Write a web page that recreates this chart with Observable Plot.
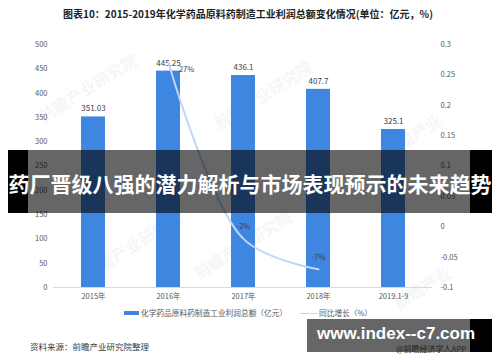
<!DOCTYPE html>
<html>
<head>
<meta charset="utf-8">
<script src="https://cdn.jsdelivr.net/npm/d3@7"></script>
<script src="https://cdn.jsdelivr.net/npm/@observablehq/plot@0.6"></script>
<style>
  html, body { margin: 0; padding: 0; background: #fff; }
  #wrap { position: relative; width: 500px; height: 362px; overflow: hidden; font-family: "Noto Sans CJK SC", "Noto Sans", sans-serif; }
  #chart { position: absolute; left: 0; top: 0; }
  .abs { position: absolute; white-space: nowrap; }
  .wm { position: absolute; white-space: nowrap; color: rgba(190,198,212,0.18); font-size: 16px; font-weight: bold; transform: rotate(-32deg); transform-origin: left center; }
</style>
</head>
<body>
<div id="wrap">
  <div class="wm" style="left:40px;top:105px;">前瞻产业研究院</div>
  <div class="wm" style="left:215px;top:112px;">前瞻产业研究院</div>
  <div class="wm" style="left:385px;top:140px;">前瞻产业</div>
  <div class="wm" style="left:85px;top:262px;">前瞻产业研究院</div>
  <div class="wm" style="left:195px;top:262px;">前瞻产业研究院</div>
  <div class="wm" style="left:395px;top:292px;">前瞻产业</div>
  <div id="chart"></div>
  <div class="abs" id="title" style="left:0;width:496px;top:6px;text-align:center;font-size:10px;font-weight:bold;color:#222;">图表10：2015-2019年化学药品原料药制造工业利润总额变化情况(单位：亿元，%)</div>
  <div class="abs" style="left:124px;top:311px;width:15px;height:4px;background:#3f86e0;"></div>
  <div class="abs" id="leg1" style="left:141px;top:307px;font-size:7.7px;line-height:12px;color:#595959;"></div>
  <div class="abs" style="left:300px;top:312.5px;width:18px;height:1.5px;background:#bdd7f6;"></div>
  <div class="abs" id="leg2" style="left:319px;top:307px;font-size:7.7px;line-height:12px;color:#595959;"></div>
  <div class="abs" style="left:30px;top:340px;font-size:8.5px;line-height:12px;color:#404040;">资料来源：前瞻产业研究院整理</div>
  <!-- overlay banner -->
  <div class="abs" style="left:8px;top:150px;width:20px;height:63px;background:#000;"></div>
  <div class="abs" style="left:28px;top:150px;width:442px;height:63px;background:rgba(0,0,0,0.6);"></div>
  <div class="abs" style="left:470px;top:150px;width:22px;height:63px;background:#000;"></div>
  <div class="abs" style="left:0;width:500px;top:168px;text-align:center;font-size:21px;line-height:30px;font-weight:bold;color:#fff;">药厂晋级八强的潜力解析与市场表现预示的未来趋势</div>
  <!-- bottom-right badge -->
  <div class="abs" style="left:307px;top:319px;width:163px;height:33px;background:rgba(0,0,0,0.6);"></div>
  <div class="abs" style="left:470px;top:319px;width:22px;height:33px;background:#000;"></div>
  <div class="abs" style="left:317px;top:323px;font-size:17px;line-height:22px;font-weight:bold;color:#fff;font-family:'Liberation Sans',Arial,sans-serif;">www.index--c7.com</div>
  <div class="abs" style="left:396px;top:343px;font-size:8px;line-height:12px;color:#222;">@前瞻经济学人APP</div>
</div>
<script>
const categories = ["2015年", "2016年", "2017年", "2018年", "2019.1-9"];
const profits = [351.03, 445.25, 436.1, 407.7, 325.1];
const growthYears = ["2016年", "2017年", "2018年"];
const growth = [0.27, -0.02, -0.07];
const growthLabels = ["27%", "-2%", "-7%"];
const leftTicks = [0, 50, 100, 150, 200, 250, 300, 350, 400, 450, 500];
const rightTicks = [-0.1, -0.05, 0, 0.05, 0.1, 0.15, 0.2, 0.25, 0.3];
const legendLabels = ["化学药品原料药制造工业利润总额（亿元）", "同比增长（%）"];

document.getElementById("leg1").textContent = legendLabels[0];
document.getElementById("leg2").textContent = legendLabels[1];

// right axis [-0.1, 0.3] shares the pixel range of left axis [0, 500]
const toLeft = v => (v + 0.1) * 1250;
const fromLeft = v => +(v / 1250 - 0.1).toFixed(2);

const bars = categories.map((c, i) => ({cat: c, value: profits[i]}));
const line = growthYears.map((c, i) => ({cat: c, g: growth[i], y: toLeft(growth[i]), label: growthLabels[i]}));

const chart = Plot.plot({
  width: 500,
  height: 362,
  marginTop: 44,
  marginBottom: 75,
  marginLeft: 53,
  marginRight: 68,
  style: {fontFamily: "'Noto Sans CJK SC', 'Noto Sans', sans-serif", background: "transparent"},
  x: {domain: categories, paddingInner: 0.68, paddingOuter: 0.34, label: null},
  y: {domain: [0, 500], label: null},
  marks: [
    Plot.barY(bars, {x: "cat", y: "value", fill: "#3f86e0"}),
    Plot.ruleY([0], {stroke: "#d9d9d9"}),
    Plot.text(bars, {x: "cat", y: "value", text: d => String(d.value), dy: -8, fontSize: 8, fill: "#404040"}),
    Plot.line(line, {x: "cat", y: "y", stroke: "#bdd7f6", strokeWidth: 2, curve: "catmull-rom"}),
    Plot.text(line.slice(0, 1), {x: "cat", y: "y", text: "label", dx: 18, dy: 7, fontSize: 7.5, fill: "#404040"}),
    Plot.text(line.slice(1), {x: "cat", y: "y", text: "label", dy: -12, fontSize: 7.5, fill: "#404040"}),
    Plot.axisY(leftTicks, {anchor: "left", tickSize: 0, tickPadding: 6, fontSize: 7.5, color: "#595959", label: null}),
    Plot.axisY(rightTicks.map(toLeft), {anchor: "right", tickSize: 0, tickPadding: 8, fontSize: 7.5, color: "#595959", label: null, tickFormat: d => String(fromLeft(d))}),
    Plot.axisX({tickSize: 0, tickPadding: 6, fontSize: 7.5, color: "#595959", label: null})
  ]
});
document.getElementById("chart").appendChild(chart);
</script>
</body>
</html>
